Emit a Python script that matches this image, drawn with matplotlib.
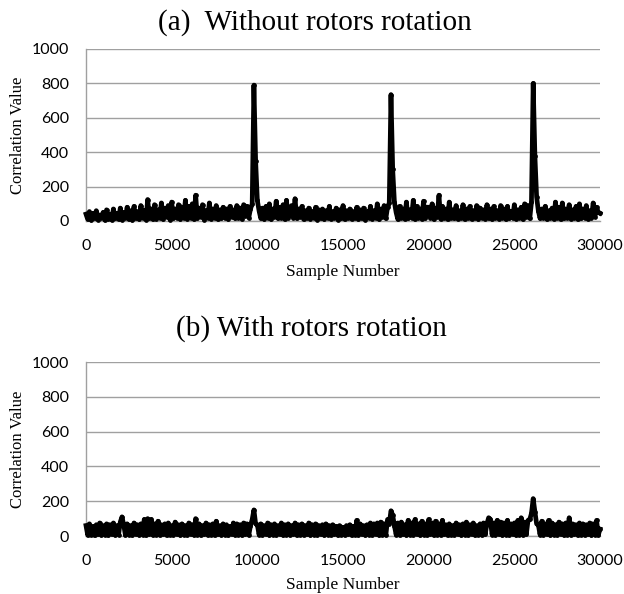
import numpy as np
import matplotlib
matplotlib.use("Agg")
import matplotlib.pyplot as plt

# ---- data (sample step 100) ----
sample_step = 100
corr_without = [
    40, 10, 55, 5, 45, 15, 60, 8, 35, 20, 50, 5, 65, 12, 40, 6, 70, 15, 45, 10,
    75, 8, 50, 20, 80, 10, 60, 5, 85, 15, 55, 10, 90, 20, 60, 8, 125, 15, 70, 10,
    95, 12, 65, 20, 105, 10, 75, 25, 90, 8, 110, 15, 70, 20, 95, 10, 80, 18, 120, 12,
    85, 20, 100, 10, 150, 15, 75, 25, 95, 8, 60, 20, 105, 12, 70, 18, 90, 10, 65, 15,
    80, 20, 70, 10, 85, 25, 65, 15, 90, 20, 75, 12, 95, 30, 85, 20, 70, 100, 790, 350,
    120, 60, 15, 75, 10, 85, 20, 100, 10, 70, 25, 115, 15, 80, 20, 95, 10, 120, 18, 75,
    90, 20, 130, 15, 70, 25, 85, 10, 60, 18, 75, 12, 55, 20, 80, 8, 65, 15, 70, 10,
    60, 18, 85, 12, 55, 20, 75, 8, 65, 15, 90, 10, 60, 20, 70, 12, 55, 18, 80, 10,
    65, 15, 75, 8, 55, 20, 85, 12, 60, 18, 100, 10, 70, 25, 90, 15, 80, 105, 735, 300,
    110, 50, 10, 85, 20, 70, 12, 110, 15, 65, 20, 120, 10, 85, 18, 70, 12, 115, 15, 80,
    80, 20, 100, 10, 75, 25, 150, 12, 85, 18, 70, 10, 110, 20, 65, 15, 90, 12, 60, 18,
    95, 10, 70, 20, 85, 12, 60, 18, 90, 10, 75, 20, 65, 12, 95, 15, 70, 10, 85, 18,
    60, 12, 90, 20, 70, 10, 85, 15, 55, 18, 95, 12, 65, 20, 80, 10, 100, 25, 90, 15,
    110, 800, 380, 140, 60, 15, 70, 20, 85, 10, 60, 18, 75, 12, 110, 20, 80, 10, 105, 15,
    70, 20, 95, 12, 65, 18, 85, 10, 100, 15, 70, 20, 90, 12, 60, 18, 105, 25, 80, 50,
    45,
]
corr_with = [
    60, 5, 70, 8, 55, 3, 65, 10, 75, 5, 60, 8, 70, 4, 65, 10, 75, 5, 60, 8,
    80, 110, 65, 5, 70, 8, 60, 4, 75, 10, 65, 5, 70, 8, 95, 4, 100, 10, 95, 5,
    70, 8, 85, 5, 65, 10, 70, 4, 75, 8, 60, 5, 80, 10, 65, 4, 70, 8, 60, 5,
    75, 10, 65, 5, 100, 8, 70, 4, 60, 10, 75, 5, 65, 8, 70, 4, 85, 10, 60, 5,
    70, 8, 65, 4, 55, 10, 75, 5, 70, 8, 65, 4, 75, 10, 70, 5, 60, 95, 150, 70,
    65, 8, 70, 5, 60, 10, 75, 4, 65, 8, 70, 5, 60, 10, 75, 4, 65, 8, 70, 5,
    60, 10, 75, 4, 65, 8, 70, 5, 60, 10, 75, 4, 65, 8, 70, 5, 60, 10, 65, 4,
    70, 8, 60, 5, 65, 10, 55, 4, 60, 8, 50, 5, 60, 10, 65, 4, 55, 8, 90, 5,
    70, 10, 60, 4, 65, 8, 75, 5, 70, 10, 75, 4, 80, 8, 70, 5, 95, 70, 145, 120,
    60, 8, 75, 5, 80, 10, 65, 4, 90, 8, 75, 5, 95, 10, 70, 4, 85, 8, 70, 5,
    95, 10, 75, 4, 85, 8, 70, 5, 90, 10, 65, 4, 70, 8, 60, 5, 75, 10, 65, 4,
    70, 8, 80, 5, 65, 10, 75, 4, 60, 8, 70, 5, 75, 10, 70, 105, 95, 8, 75, 5,
    90, 10, 80, 4, 75, 8, 90, 5, 70, 10, 75, 4, 90, 8, 105, 5, 80, 10, 90, 95,
    130, 215, 140, 70, 65, 8, 85, 5, 70, 10, 90, 4, 75, 8, 65, 5, 80, 10, 70, 4,
    75, 8, 105, 5, 70, 10, 65, 4, 75, 8, 70, 5, 65, 10, 75, 4, 70, 8, 90, 5,
    40,
]
x_ticks = [0, 5000, 10000, 15000, 20000, 25000, 30000]
y_ticks = [0, 200, 400, 600, 800, 1000]
titles = ["(a)  Without rotors rotation", "(b) With rotors rotation"]
xlabel = "Sample Number"
ylabel = "Correlation Value"

W, H = 624, 594
fig = plt.figure(figsize=(W / 100, H / 100), dpi=100)

def px_axes(left, top, right, bottom):
    return fig.add_axes([left / W, 1 - bottom / H, (right - left) / W, (bottom - top) / H])

axes = [px_axes(86, 49, 600, 221), px_axes(86, 362, 600, 536)]
series = [corr_without, corr_with]
title_pos = [(315, 23), (311, 329)]
grid_col = "#a0a0a0"

for ax, vals, title, tp in zip(axes, series, titles, title_pos):
    xs = np.arange(len(vals)) * sample_step
    ax.plot(xs, vals, color="black", lw=3.4, marker="o", ms=2.4,
            solid_joinstyle="round", clip_on=False, zorder=3)
    ax.set_xlim(0, 30000)
    ax.set_ylim(0, 1000)
    ax.set_xticks(x_ticks)
    ax.set_yticks(y_ticks)
    ax.yaxis.grid(True, color=grid_col, lw=1.0)
    ax.set_axisbelow(True)
    for s in ["top", "right"]:
        ax.spines[s].set_visible(False)
    for s in ["bottom", "left"]:
        ax.spines[s].set_color(grid_col)
        ax.spines[s].set_linewidth(1.0)
    ax.tick_params(length=0, labelsize=11.5, colors="black")
    ax.tick_params(axis="x", pad=13)
    ax.tick_params(axis="y", pad=12)
    for lab in ax.get_xticklabels() + ax.get_yticklabels():
        lab.set_fontfamily("Lato")
    ax.set_xlabel(xlabel, family="Liberation Serif", fontsize=12.5, va="center")
    ax.set_ylabel(ylabel, family="Liberation Serif", fontsize=12, va="center")
    ax.xaxis.set_label_coords(0.5, -51 / 172 if ax is axes[0] else -49 / 174)
    ax.yaxis.set_label_coords(-68 / 514, 0.5)
    fig.text(tp[0] / W, 1 - tp[1] / H, title, family="Liberation Serif",
             fontsize=21, ha="center", va="center")

fig.savefig("out.png", dpi=100)
